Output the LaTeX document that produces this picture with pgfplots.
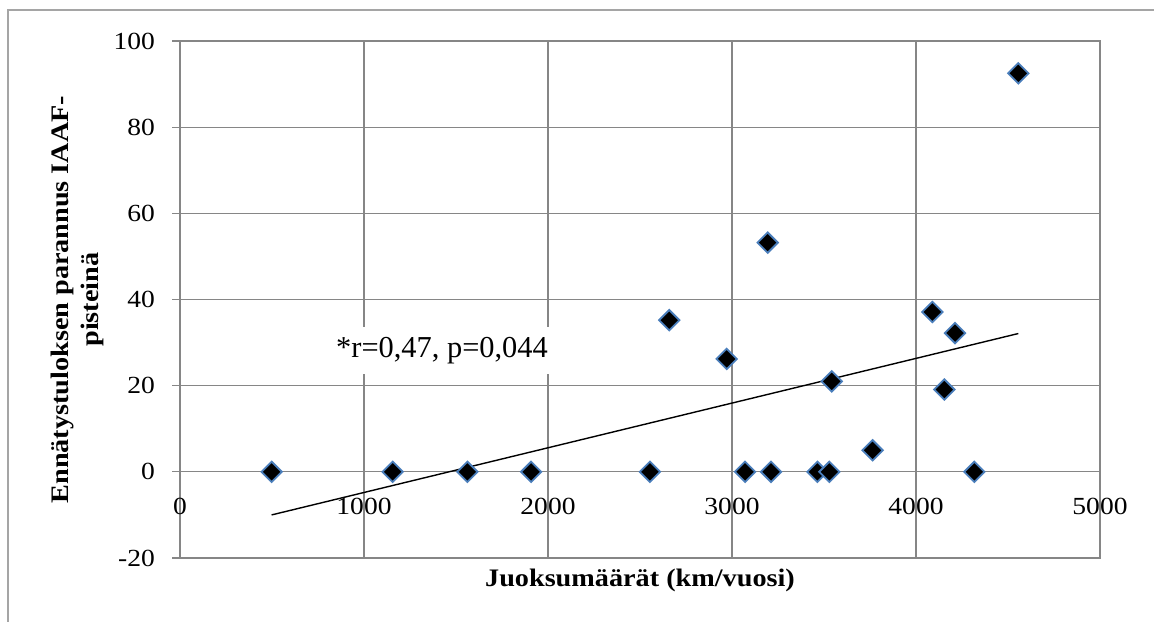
\documentclass[border=0pt]{standalone}
\usepackage{fontspec}
\setmainfont[FakeStretch=1.12]{Liberation Serif}
\newfontfamily\annfont{Liberation Serif}
\usepackage{pgfplots}
\pgfplotsset{compat=1.18}
\definecolor{gridgray}{RGB}{134,134,134}
\definecolor{frameg}{RGB}{165,165,165}
\definecolor{mkblue}{RGB}{74,126,187}
\begin{document}
\begin{tikzpicture}
\begin{axis}[
  at={(0,0)}, anchor=south west,
  scale only axis, width=460pt, height=258.5pt,
  xmin=0, xmax=5000, ymin=-20, ymax=100,
  xtick={0,1000,...,5000}, ytick={-20,0,...,100},
  grid=major,
  major grid style={gridgray, line width=0.6pt},
  axis line style={gridgray, line width=0.6pt},
  ytick style={gridgray, line width=0.6pt},
  xtick style={draw=none},
  tick align=outside, ytick pos=left,
  major tick length=4pt,
  /pgf/number format/assume math mode=true,
  /pgf/number format/1000 sep={},
  tick label style={font=\fontsize{12.3}{14}\selectfont, black},
  xticklabel style={anchor=center, yshift=30pt},
  yticklabel style={anchor=east, xshift=-5pt},
  xlabel={Juoksumäärät (km/vuosi)},
  xlabel style={at={(axis description cs:0.5,-0.0426)}, anchor=center, font=\bfseries\fontsize{12.6}{15}\selectfont},
  ylabel={Ennätystuloksen parannus IAAF-\\pisteinä},
  ylabel style={at={(axis description cs:-0.112,0.5)}, anchor=center, align=center, font=\bfseries\fontsize{12.6}{15}\selectfont},
]
\addplot[only marks, mark=square*, mark size=3.6pt,
  mark options={rotate=45, fill=black, draw=mkblue, line width=0.9pt}]
coordinates {
(498,0) (1156,0) (1562,0) (1908,0) (2554,0) (2659,35.2) (2971,26.2)
(3071,0) (3194,53.2) (3212,0) (3464,0) (3529,0) (3542,21) (3764,5)
(4089,37.1) (4154,19.1) (4212,32.2) (4317,0) (4556,92.5)
};
\addplot[black, line width=0.7pt, no marks] coordinates {(498,-10.0) (4556,32.1)};
\node[fill=white, inner sep=5pt, anchor=base, font=\annfont\fontsize{15.2}{18}\selectfont]
  at (axis cs:1424,26.6) {*r=0,47, p=0,044};
\end{axis}
\draw[frameg, line width=0.6pt] (-86pt,-32pt) -- (-86pt,274pt) -- (488pt,274pt);
\pgfresetboundingbox
\path[use as bounding box] (-90pt,-31.5pt) rectangle (487pt,279pt);
\end{tikzpicture}
\end{document}
